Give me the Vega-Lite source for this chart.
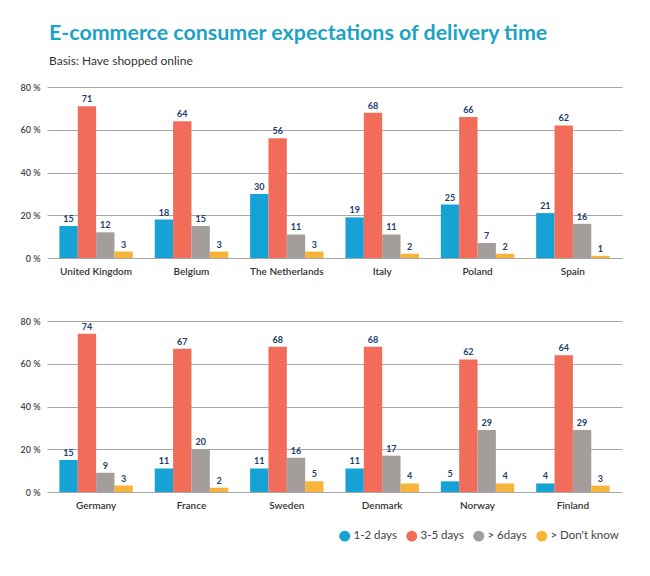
{
  "$schema": "https://vega.github.io/schema/vega-lite/v6.json",
  "background": "white",
  "padding": {"left": 20, "top": 22, "right": 25, "bottom": 10},
  "title": {
    "text": "E-commerce consumer expectations of delivery time",
    "subtitle": "Basis: Have shopped online",
    "anchor": "start",
    "frame": "group",
    "dx": 2,
    "font": "Lato",
    "fontSize": 21.4,
    "fontWeight": "bold",
    "color": "#1ca3c4",
    "subtitleFont": "Lato",
    "subtitleFontSize": 12,
    "subtitleColor": "#333333",
    "subtitlePadding": 12,
    "offset": 16
  },
  "data": {
    "values": [
      {"panel": 1, "country": "United Kingdom", "category": "1-2 days", "value": 15},
      {"panel": 1, "country": "United Kingdom", "category": "3-5 days", "value": 71},
      {"panel": 1, "country": "United Kingdom", "category": "> 6days", "value": 12},
      {"panel": 1, "country": "United Kingdom", "category": "> Don't know", "value": 3},
      {"panel": 1, "country": "Belgium", "category": "1-2 days", "value": 18},
      {"panel": 1, "country": "Belgium", "category": "3-5 days", "value": 64},
      {"panel": 1, "country": "Belgium", "category": "> 6days", "value": 15},
      {"panel": 1, "country": "Belgium", "category": "> Don't know", "value": 3},
      {"panel": 1, "country": "The Netherlands", "category": "1-2 days", "value": 30},
      {"panel": 1, "country": "The Netherlands", "category": "3-5 days", "value": 56},
      {"panel": 1, "country": "The Netherlands", "category": "> 6days", "value": 11},
      {"panel": 1, "country": "The Netherlands", "category": "> Don't know", "value": 3},
      {"panel": 1, "country": "Italy", "category": "1-2 days", "value": 19},
      {"panel": 1, "country": "Italy", "category": "3-5 days", "value": 68},
      {"panel": 1, "country": "Italy", "category": "> 6days", "value": 11},
      {"panel": 1, "country": "Italy", "category": "> Don't know", "value": 2},
      {"panel": 1, "country": "Poland", "category": "1-2 days", "value": 25},
      {"panel": 1, "country": "Poland", "category": "3-5 days", "value": 66},
      {"panel": 1, "country": "Poland", "category": "> 6days", "value": 7},
      {"panel": 1, "country": "Poland", "category": "> Don't know", "value": 2},
      {"panel": 1, "country": "Spain", "category": "1-2 days", "value": 21},
      {"panel": 1, "country": "Spain", "category": "3-5 days", "value": 62},
      {"panel": 1, "country": "Spain", "category": "> 6days", "value": 16},
      {"panel": 1, "country": "Spain", "category": "> Don't know", "value": 1},
      {"panel": 2, "country": "Germany", "category": "1-2 days", "value": 15},
      {"panel": 2, "country": "Germany", "category": "3-5 days", "value": 74},
      {"panel": 2, "country": "Germany", "category": "> 6days", "value": 9},
      {"panel": 2, "country": "Germany", "category": "> Don't know", "value": 3},
      {"panel": 2, "country": "France", "category": "1-2 days", "value": 11},
      {"panel": 2, "country": "France", "category": "3-5 days", "value": 67},
      {"panel": 2, "country": "France", "category": "> 6days", "value": 20},
      {"panel": 2, "country": "France", "category": "> Don't know", "value": 2},
      {"panel": 2, "country": "Sweden", "category": "1-2 days", "value": 11},
      {"panel": 2, "country": "Sweden", "category": "3-5 days", "value": 68},
      {"panel": 2, "country": "Sweden", "category": "> 6days", "value": 16},
      {"panel": 2, "country": "Sweden", "category": "> Don't know", "value": 5},
      {"panel": 2, "country": "Denmark", "category": "1-2 days", "value": 11},
      {"panel": 2, "country": "Denmark", "category": "3-5 days", "value": 68},
      {"panel": 2, "country": "Denmark", "category": "> 6days", "value": 17},
      {"panel": 2, "country": "Denmark", "category": "> Don't know", "value": 4},
      {"panel": 2, "country": "Norway", "category": "1-2 days", "value": 5},
      {"panel": 2, "country": "Norway", "category": "3-5 days", "value": 62},
      {"panel": 2, "country": "Norway", "category": "> 6days", "value": 29},
      {"panel": 2, "country": "Norway", "category": "> Don't know", "value": 4},
      {"panel": 2, "country": "Finland", "category": "1-2 days", "value": 4},
      {"panel": 2, "country": "Finland", "category": "3-5 days", "value": 64},
      {"panel": 2, "country": "Finland", "category": "> 6days", "value": 29},
      {"panel": 2, "country": "Finland", "category": "> Don't know", "value": 3}
    ]
  },
  "spacing": 41,
  "vconcat": [
    {
      "width": 575,
      "height": 171,
      "transform": [{"filter": "datum.panel == 1"}],
      "encoding": {
        "x": {"field": "country", "type": "nominal", "sort": null, "title": null,
              "scale": {"paddingInner": 0.23, "paddingOuter": 0.13}},
        "xOffset": {"field": "category", "type": "nominal", "sort": ["1-2 days", "3-5 days", "> 6days", "> Don't know"], "scale": {"paddingInner": 0, "paddingOuter": 0}},
        "y": {"field": "value", "type": "quantitative", "title": null, "scale": {"domain": [0, 80]}}
      },
      "layer": [
        {"mark": {"type": "bar"},
         "encoding": {"color": {"field": "category", "type": "nominal", "title": null,
            "scale": {"domain": ["1-2 days", "3-5 days", "> 6days", "> Don't know"], "range": ["#16a2d4", "#f26c5a", "#a39d9b", "#f6b43a"]}}}},
        {"mark": {"type": "text", "dy": -7, "font": "Lato", "fontSize": 9, "fontWeight": "bold", "color": "#22406a"},
         "encoding": {"text": {"field": "value", "type": "quantitative"}}}
      ]
    },
    {
      "width": 575,
      "height": 171,
      "transform": [{"filter": "datum.panel == 2"}],
      "encoding": {
        "x": {"field": "country", "type": "nominal", "sort": null, "title": null,
              "scale": {"paddingInner": 0.23, "paddingOuter": 0.13}},
        "xOffset": {"field": "category", "type": "nominal", "sort": ["1-2 days", "3-5 days", "> 6days", "> Don't know"], "scale": {"paddingInner": 0, "paddingOuter": 0}},
        "y": {"field": "value", "type": "quantitative", "title": null, "scale": {"domain": [0, 80]}}
      },
      "layer": [
        {"mark": {"type": "bar"},
         "encoding": {"color": {"field": "category", "type": "nominal", "title": null,
            "scale": {"domain": ["1-2 days", "3-5 days", "> 6days", "> Don't know"], "range": ["#16a2d4", "#f26c5a", "#a39d9b", "#f6b43a"]}}}},
        {"mark": {"type": "text", "dy": -7, "font": "Lato", "fontSize": 9, "fontWeight": "bold", "color": "#22406a"},
         "encoding": {"text": {"field": "value", "type": "quantitative"}}}
      ]
    }
  ],
  "config": {
    "view": {"stroke": null},
    "font": "Lato",
    "axisX": {"labelAngle": 0, "labelFontSize": 10, "labelColor": "#333333", "labelFont": "Lato", "labelFontWeight": 600, "labelPadding": 8, "ticks": false, "domain": false, "grid": false},
    "axisY": {"labelFontSize": 9, "labelColor": "#444444", "labelFont": "Lato", "labelFontWeight": 600, "labelPadding": 7, "ticks": false, "domain": false, "grid": true, "gridColor": "#a8a8a8", "gridWidth": 1, "tickCount": 4, "values": [0, 20, 40, 60, 80], "labelExpr": "datum.value + ' %'"},
    "legend": {"orient": "none", "legendX": 292, "legendY": 443, "direction": "horizontal", "columns": 4, "symbolType": "circle", "symbolSize": 120, "symbolStrokeWidth": 0, "labelFontSize": 11.5, "labelColor": "#444444", "labelFont": "Lato", "columnPadding": 9, "labelOffset": 3}
  }
}
